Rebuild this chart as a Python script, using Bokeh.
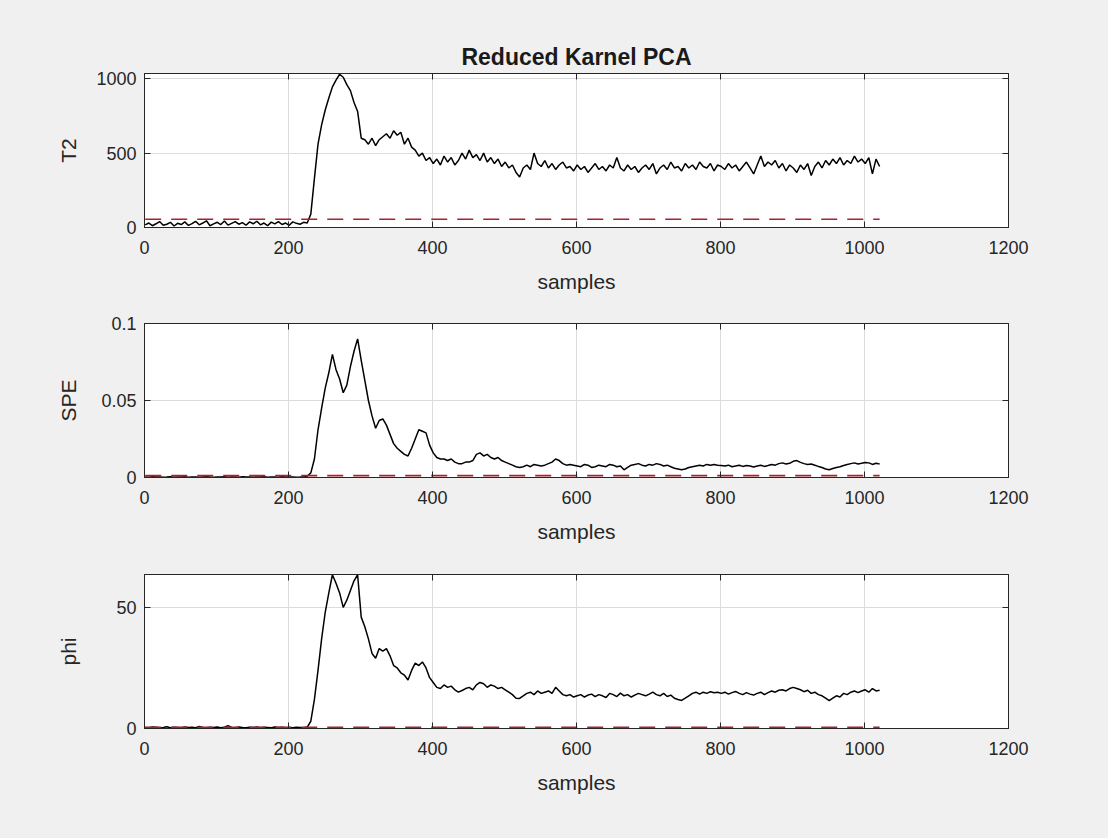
from bokeh.plotting import figure
from bokeh.layouts import column
from bokeh.models import LinearAxis, FixedTicker, Range1d
from bokeh.embed import file_html
from bokeh.resources import INLINE

# ---------------- data (every 5th sample) ----------------
t2 = [
    18, 30, 12, 25, 40, 15, 22, 35, 10, 28,
    20, 38, 14, 26, 42, 18, 30, 45, 12, 24,
    35, 20, 44, 16, 28, 40, 22, 33, 15, 38,
    25, 42, 18, 30, 12, 36, 24, 40, 20, 30,
    15, 38, 28, 22, 35, 30, 90, 330, 560, 690,
    790, 870, 945, 990, 1030, 1010, 960, 920, 840, 780,
    600, 590, 560, 600, 550, 590, 610, 630, 600, 650,
    620, 640, 560, 600, 540, 520, 480, 500, 450, 470,
    430, 460, 420, 480, 440, 470, 420, 450, 500, 460,
    520, 470, 490, 450, 500, 440, 470, 430, 460, 410,
    440, 400, 420, 370, 340, 400, 420, 390, 500, 430,
    410, 450, 400, 430, 390, 420, 440, 400, 410, 380,
    420, 390, 410, 370, 400, 430, 390, 410, 380, 420,
    400, 470, 400, 380, 420, 390, 410, 370, 400, 420,
    390, 430, 360, 400, 420, 390, 440, 400, 410, 380,
    430, 400, 420, 390, 440, 410, 400, 430, 380, 420,
    410, 390, 430, 400, 420, 380, 410, 440, 400, 360,
    420, 480, 410, 440, 420, 450, 400, 430, 380, 420,
    400, 370, 420, 390, 430, 350, 410, 440, 400, 450,
    420, 460, 430, 470, 420, 450, 430, 480, 440, 460,
    430, 470, 360, 460, 410,
]

spe = [
    0.0004, 0.0002, 0.0005, 0.0003, 0.0004, 0.0002, 0.0003, 0.0005, 0.0002, 0.0004,
    0.0003, 0.0005, 0.0002, 0.0004, 0.0003, 0.0002, 0.0004, 0.0005, 0.0003, 0.0002,
    0.0004, 0.0003, 0.0005, 0.0002, 0.0003, 0.0004, 0.0002, 0.0005, 0.0003, 0.0004,
    0.0002, 0.0004, 0.0003, 0.0005, 0.0002, 0.0003, 0.0004, 0.0002, 0.0005, 0.0003,
    0.0003, 0.0004, 0.0002, 0.0003, 0.0005, 0.0008, 0.003, 0.012, 0.031, 0.045,
    0.058, 0.068, 0.080, 0.070, 0.064, 0.055, 0.060, 0.072, 0.082, 0.090,
    0.076, 0.063, 0.050, 0.040, 0.032, 0.037, 0.038, 0.034, 0.028, 0.022,
    0.019, 0.017, 0.015, 0.014, 0.019, 0.025, 0.031, 0.030, 0.029, 0.021,
    0.016, 0.013, 0.012, 0.012, 0.011, 0.012, 0.010, 0.009, 0.009, 0.010,
    0.010, 0.011, 0.015, 0.016, 0.014, 0.015, 0.013, 0.012, 0.013, 0.011,
    0.010, 0.009, 0.008, 0.007, 0.0065, 0.007, 0.008, 0.007, 0.0085, 0.008,
    0.0075, 0.008, 0.009, 0.010, 0.012, 0.011, 0.009, 0.008, 0.0085, 0.008,
    0.0075, 0.007, 0.0085, 0.008, 0.0065, 0.007, 0.008, 0.0075, 0.007, 0.0085,
    0.008, 0.007, 0.0075, 0.005, 0.0065, 0.008, 0.0085, 0.009, 0.008, 0.0075,
    0.0085, 0.008, 0.009, 0.0085, 0.0075, 0.008, 0.007, 0.006, 0.0055, 0.005,
    0.0055, 0.0065, 0.007, 0.0075, 0.008, 0.0075, 0.0085, 0.008, 0.0085, 0.008,
    0.0078, 0.0075, 0.008, 0.007, 0.0075, 0.008, 0.0072, 0.0078, 0.0075, 0.0068,
    0.0075, 0.008, 0.0072, 0.0078, 0.0085, 0.008, 0.009, 0.0095, 0.0088, 0.0092,
    0.0105, 0.011, 0.0098, 0.009, 0.0085, 0.0088, 0.008, 0.0072, 0.0065, 0.0055,
    0.005, 0.0058, 0.0065, 0.007, 0.0078, 0.0085, 0.009, 0.0095, 0.0088, 0.0092,
    0.0098, 0.0095, 0.0085, 0.0092, 0.0088,
]

phi = [
    0.4, 0.3, 0.6, 0.5, 0.3, 0.4, 0.7, 0.3, 0.5, 0.4,
    0.3, 0.6, 0.4, 0.5, 0.3, 0.8, 0.4, 0.3, 0.5, 0.4,
    0.6, 0.3, 0.5, 1.2, 0.4, 0.3, 0.6, 0.4, 0.3, 0.5,
    0.4, 0.6, 0.3, 0.5, 0.4, 0.3, 0.6, 0.4, 0.5, 0.3,
    0.4, 0.3, 0.5, 0.4, 0.3, 0.6, 3, 12, 24, 37,
    48, 56, 63.5, 60, 56, 50, 53, 57, 61, 63.5,
    46, 42, 37, 31, 29, 33, 32, 33, 30, 26,
    25, 23, 22, 20, 24, 27, 26, 27.5, 25, 21,
    19, 17, 16.5, 18, 17, 17.5, 16, 15, 15.7, 16.5,
    17, 16, 18, 19, 18.5, 17, 18, 17.5, 16.5, 17,
    16, 15, 14, 12.5, 12.4, 13.5, 14.5, 15, 14, 15.5,
    14.5, 15, 15.5, 14.5, 17, 15.5, 14, 13.5, 14, 13,
    13.5, 14, 13, 13.8, 14.2, 13.2, 14, 13.5, 12.8, 14.5,
    14, 13.2, 14.6, 13.5, 14, 13, 13.8, 14.5, 14, 13.5,
    14.2, 15, 14, 13.5, 14.5, 13.2, 13.8, 12.5, 12, 11.6,
    12.5, 13.5, 14.5, 15, 14.2, 15, 14.5, 15.2, 14.8, 15,
    14.5, 15, 14.2, 14.8, 15.3, 14.5, 14, 14.8, 14.2, 13.8,
    14.5, 15, 14, 14.8, 15.5, 15, 15.8, 16, 15.5, 16.5,
    17, 16.5, 16, 15.2, 15.8, 14.5, 15, 14, 13.5, 12.5,
    11.5, 12.5, 13.5, 13, 14.5, 14, 15, 15.5, 14.8, 15.5,
    16, 15, 16.5, 15.5, 15.8,
]

thr_t2 = 55
thr_spe = 0.0012
thr_phi = 0.5

x_ticks = [0, 200, 400, 600, 800, 1000, 1200]
t2_ticks = [0, 500, 1000]
spe_ticks = [0, 0.05, 0.1]
spe_tick_labels = {0: "0", 0.05: "0.05", 0.1: "0.1"}
phi_ticks = [0, 50]

title_text = "Reduced Karnel PCA"
x_label = "samples"

FONT = "Liberation Sans"
TXT = "#262626"
TICK_FS = "18px"
LABEL_FS = "21px"
TITLE_FS = "23px"


def sample_index(vals):
    return [1 + 5 * i for i in range(len(vals))]


def style_axis(ax, show_labels=True):
    ax.major_tick_in = 6
    ax.major_tick_out = 0
    ax.minor_tick_line_color = None
    ax.axis_line_color = TXT
    ax.major_tick_line_color = TXT
    ax.major_label_text_font = FONT
    ax.major_label_text_font_size = TICK_FS if show_labels else "1px"
    ax.major_label_text_color = TXT if show_labels else None
    ax.axis_label_text_font = FONT
    ax.axis_label_text_font_size = LABEL_FS
    ax.axis_label_text_font_style = "normal"
    ax.axis_label_text_color = TXT


def make(vals, thr, ylabel, yend, yticks, top, bottom, height, ystand, title=None, overrides=None):
    p = figure(width=1108, height=height, x_range=Range1d(0, 1200), y_range=Range1d(0, yend),
               output_backend="svg", toolbar_location=None,
               min_border_left=144, min_border_right=100,
               min_border_top=top, min_border_bottom=bottom)
    p.border_fill_color = "#F0F0F0"
    p.background_fill_color = "white"
    p.outline_line_color = TXT
    p.outline_line_width = 1

    xs = sample_index(vals)
    p.line(xs, vals, line_color="black", line_width=1.5)
    p.line([xs[0], xs[-1]], [thr, thr], line_color="#A8222C", line_width=1.6, line_dash="16 10")

    p.xaxis.ticker = FixedTicker(ticks=x_ticks)
    p.yaxis.ticker = FixedTicker(ticks=yticks)
    if overrides:
        p.yaxis.major_label_overrides = overrides
    style_axis(p.xaxis[0])
    style_axis(p.yaxis[0])
    p.xaxis.axis_label = x_label
    p.xaxis.major_label_standoff = 13
    p.xaxis.axis_label_standoff = 13
    p.yaxis.axis_label = ylabel
    p.yaxis.major_label_standoff = 8
    p.yaxis.axis_label_standoff = ystand

    ra = LinearAxis(ticker=FixedTicker(ticks=yticks))
    style_axis(ra, show_labels=False)
    ra.major_label_standoff = 0
    p.add_layout(ra, "right")
    ta = LinearAxis(ticker=FixedTicker(ticks=x_ticks))
    style_axis(ta, show_labels=False)
    ta.major_label_standoff = 0
    p.add_layout(ta, "above")

    p.xgrid.ticker = FixedTicker(ticks=x_ticks)
    p.ygrid.ticker = FixedTicker(ticks=yticks)
    p.grid.grid_line_color = "#DCDCDC"
    p.grid.grid_line_width = 1

    if title:
        p.title.text = title
        p.title.align = "center"
        p.title.text_font = FONT
        p.title.text_font_size = TITLE_FS
        p.title.text_font_style = "bold"
        p.title.text_color = "#1a1a1a"
        p.title.standoff = 7
    return p


p1 = make(t2, thr_t2, "T2", 1035, t2_ticks, 73, 75, 302, 13, title=title_text)
p2 = make(spe, thr_spe, "SPE", 0.1, spe_ticks, 21, 75, 250, 18, overrides=spe_tick_labels)
p3 = make(phi, thr_phi, "phi", 63.6, phi_ticks, 22, 110, 286, 33)

layout = column(p1, p2, p3, spacing=0)
layout.styles = {"background-color": "#F0F0F0"}

open("out.html", "w").write(file_html(layout, INLINE))
